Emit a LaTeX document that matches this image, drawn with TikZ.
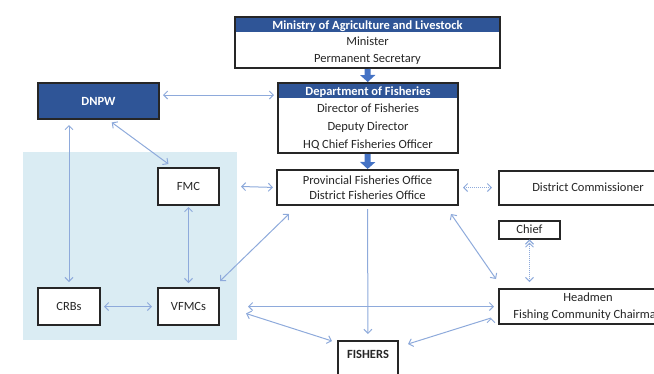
\documentclass[tikz,border=0pt]{standalone}
\usepackage{fontspec}
\setmainfont{Carlito}
\usetikzlibrary{arrows.meta}

\definecolor{titleblue}{HTML}{2F5597}
\definecolor{blockblue}{HTML}{4472C4}
\definecolor{linkblue}{HTML}{8EAADB}
\definecolor{zoneblue}{HTML}{DAECF3}
\definecolor{inkgray}{HTML}{262626}

\begin{document}
\begin{tikzpicture}[x=1pt, y=-1pt,
    >={Straight Barb[length=4pt,width=8pt]},
    box/.style={rectangle, draw=inkgray, line width=2pt, fill=white, text=inkgray,
                inner sep=0pt, align=center, font=\fontsize{12.5}{15}\selectfont},
    darkbox/.style={box, fill=titleblue, text=white, font=\fontsize{12.5}{15}\selectfont\bfseries},
    titled box/.style={box, path picture={\fill[titleblue] (path picture bounding box.north west)
                rectangle ([yshift=-#1]path picture bounding box.north east);}},
    zone/.style={rectangle, fill=zoneblue, inner sep=0pt},
    link/.style={draw=linkblue, line width=1pt},
    blockarrow/.style={draw=blockblue, line width=6pt, -{Triangle[length=7pt,width=15pt]}}]

  \useasboundingbox (0,0) rectangle (654,373);

  % community level
  \node[zone, minimum width=214pt, minimum height=188pt] (community) at (130, 246) {};

  \node[titled box=15pt, minimum width=265pt, minimum height=51pt,
        font=\fontsize{12.5}{16.5}\selectfont] (ministry) at (367.5, 42.5)
        {\textcolor{white}{\textbf{Ministry of Agriculture and Livestock}}\\ Minister\\ Permanent Secretary};
  \node[titled box=15pt, minimum width=180pt, minimum height=70pt,
        font=\fontsize{12.5}{17.7}\selectfont] (dept) at (368, 118)
        {\textcolor{white}{\textbf{Department of Fisheries}}\\ Director of Fisheries\\ Deputy Director\\ HQ Chief Fisheries Officer};
  \node[box, minimum width=181pt, minimum height=35pt] (prov) at (367.5, 187.5)
        {Provincial Fisheries Office\\ District Fisheries Office};
  \node[box, minimum width=178pt, minimum height=34pt] (dc) at (588, 187.5) {District Commissioner};
  \node[box, minimum width=61pt, minimum height=18pt] (chief) at (529.5, 229.5) {Chief};
  \node[box, minimum width=178pt, minimum height=35pt,
        font=\fontsize{12.5}{17}\selectfont] (headmen) at (588, 306.5)
        {Headmen\\ Fishing Community Chairman};
  \node[box, minimum width=60pt, minimum height=40pt, text depth=13pt,
        font=\fontsize{12.5}{15}\selectfont\bfseries] (fishers) at (368, 361) {FISHERS};

  \node[darkbox, minimum width=121pt, minimum height=36pt] (dnpw) at (98.5, 101) {DNPW};
  \node[box, minimum width=61pt, minimum height=37pt] (fmc) at (188.5, 186.5) {FMC};
  \node[box, minimum width=62pt, minimum height=37pt] (crbs) at (69, 306.5) {CRBs};
  \node[box, minimum width=61pt, minimum height=37pt] (vfmcs) at (188.5, 306.5) {VFMCs};

  % line of command
  \draw[blockarrow] (ministry) -- (dept);
  \draw[blockarrow] (dept) -- (prov);

  \path[link, <->]
  ([yshift=6pt]dnpw.east) edge[shorten <=3pt, shorten >=3pt] ([yshift=23pt]dept.west)
  (dnpw.south -| crbs.north) edge[shorten <=5pt, shorten >=5pt] (crbs.north)
  ([xshift=10pt]dnpw.south) edge[shorten <=4pt, shorten >=5pt] ([xshift=-16pt]fmc.north)
  ([xshift=21pt]fmc.east) edge[shorten >=3pt] (prov.west)
  (fmc) edge[shorten <=1pt, shorten >=4pt] (vfmcs)
  (crbs) edge[shorten <=3pt, shorten >=5pt] (vfmcs)
  ([yshift=6pt]vfmcs.north east) edge ([xshift=13pt,yshift=-8pt]prov.south west)
  ([xshift=28pt]vfmcs.east) edge[shorten >=4pt] (headmen.west)
  ([xshift=26pt,yshift=-7pt]vfmcs.east) edge ([xshift=-5pt,yshift=-1pt]fishers.north west)
  ([xshift=-8pt,yshift=-8pt]prov.south east) edge ([xshift=-2pt,yshift=9pt]headmen.north west)
  (prov) edge[densely dotted, shorten <=4pt, shorten >=6pt] (dc)
  (chief.south) edge[densely dotted, shorten <=3pt, shorten >=6pt] (chief.south |- headmen.north);

  \path[link, ->]
  (prov) edge[shorten <=3pt, shorten >=6pt] (fishers)
  ([xshift=-7pt,yshift=-11.5pt]headmen.west) edge ([xshift=9pt,yshift=-4pt]fishers.north east);

\end{tikzpicture}
\end{document}
